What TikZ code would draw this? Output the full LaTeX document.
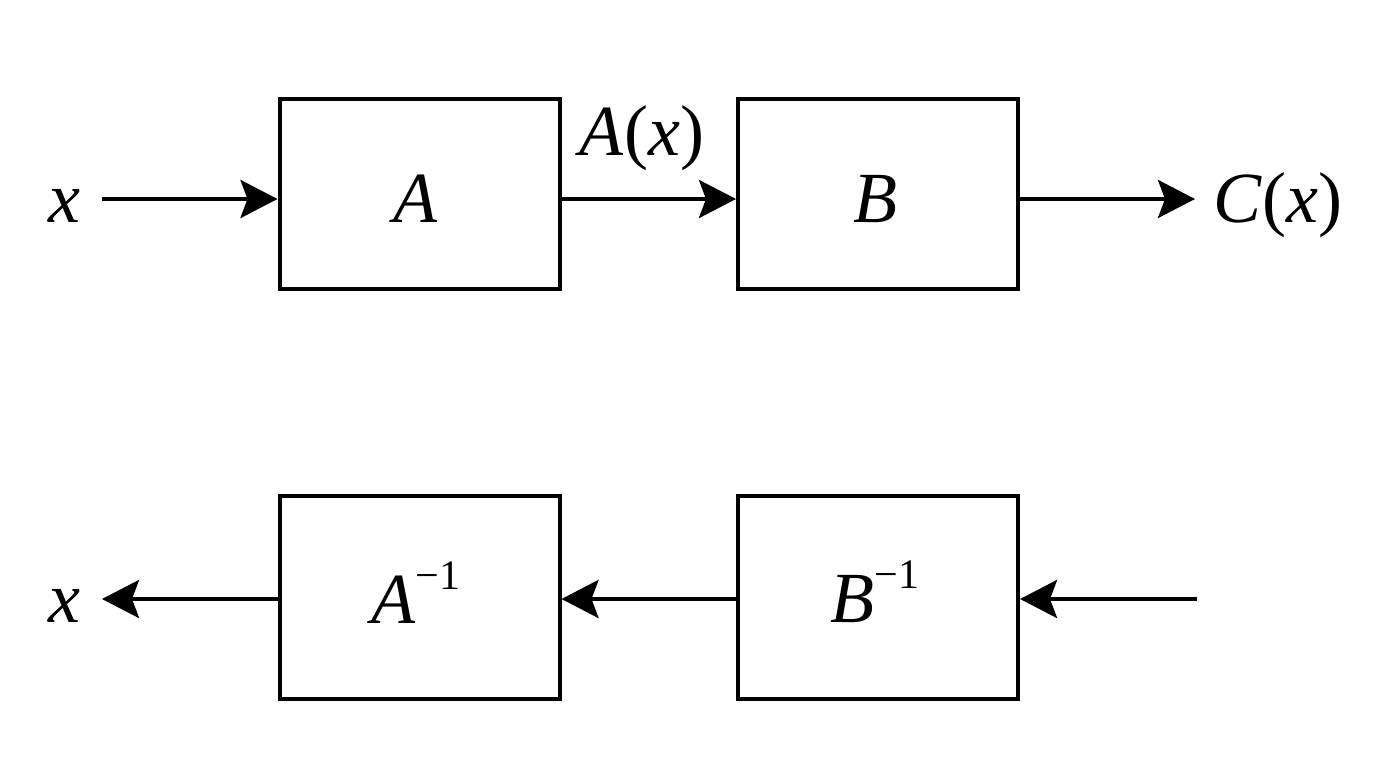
\documentclass[tikz,border=0pt]{standalone}
\usepackage{fontspec}
\setmainfont{Liberation Serif}[ItalicFont={Liberation Serif Italic}]
\usetikzlibrary{arrows.meta}
\newcommand{\supinv}{\raisebox{34pt}{\fontsize{42}{42}\selectfont −1}}
\begin{document}
\begin{tikzpicture}[x=1pt,y=-1pt,
  blk/.style={draw=black,line width=4pt,minimum width=280pt,inner sep=0pt},
  lbl/.style={anchor=base,inner sep=0pt,font=\fontsize{72}{80}\selectfont},
  arr/.style={line width=4pt,-{Stealth[length=37pt,width=38pt,inset=7pt]}}]
\useasboundingbox (0,0) rectangle (1376,768);
% blocks
\node[blk,minimum height=190pt] (A)  at (419.5,194) {};
\node[blk,minimum height=190pt] (B)  at (878,194) {};
\node[blk,minimum height=203pt] (Ai) at (419.5,597.5) {};
\node[blk,minimum height=203pt] (Bi) at (878,597.5) {};
% labels
\node[lbl] (tA)  at (416,222) {\textit{A}};
\node[lbl] (tB)  at (875,222) {\textit{B}};
\node[lbl] (tAi) at (416,623) {\textit{A}\supinv};
\node[lbl] (tBi) at (875,622) {\textit{B}\supinv};
\node[lbl] (xin)  at (64,222) {\textit{x}};
\node[lbl] (Ax)   at (642,155) {\textit{A}(\textit{x})};
\node[lbl] (Cx)   at (1278,222) {\textit{C}(\textit{x})};
\node[lbl] (xout) at (64,622) {\textit{x}};
% helper coordinates
\coordinate (r1) at (0,199);
\coordinate (r2) at (0,599);
\coordinate (inS)  at (102,199);
\coordinate (outE) at (1195,199);
\coordinate (inB)  at (1197,599);
\coordinate (outX) at (102,599);
% connectors
\draw[arr] (inS) -- (A.west |- r1);
\draw[arr] (A.east |- r1) -- (B.west |- r1);
\draw[arr] (B.east |- r1) -- (outE);
\draw[arr] (inB) -- (Bi.east |- r2);
\draw[arr] (Bi.west |- r2) -- (Ai.east |- r2);
\draw[arr] (Ai.west |- r2) -- (outX);
\end{tikzpicture}
\end{document}
